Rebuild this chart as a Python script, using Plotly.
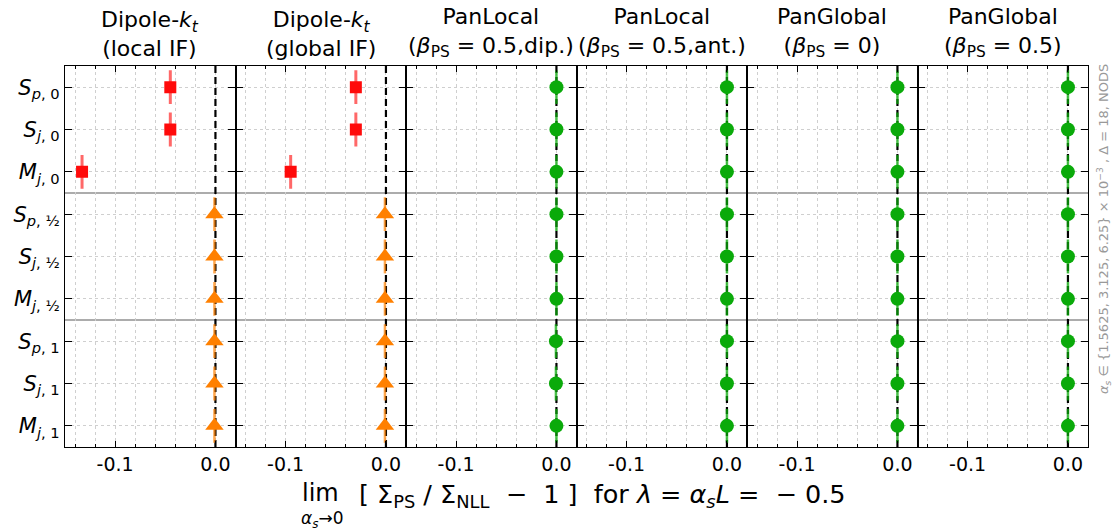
import plotly.graph_objects as go
from plotly.subplots import make_subplots

# ---------------- data ----------------
observables = [
    "<i>S</i><sub><i>p</i>, 0</sub>",
    "<i>S</i><sub><i>j</i>, 0</sub>",
    "<i>M</i><sub><i>j</i>, 0</sub>",
    "<i>S</i><sub><i>p</i>, ½</sub>",
    "<i>S</i><sub><i>j</i>, ½</sub>",
    "<i>M</i><sub><i>j</i>, ½</sub>",
    "<i>S</i><sub><i>p</i>, 1</sub>",
    "<i>S</i><sub><i>j</i>, 1</sub>",
    "<i>M</i><sub><i>j</i>, 1</sub>",
]
panel_titles = [
    "Dipole-<i>k</i><sub><i>t</i></sub><br>(local IF)",
    "Dipole-<i>k</i><sub><i>t</i></sub><br>(global IF)",
    "PanLocal<br>(<i>β</i><sub>PS</sub> = 0.5,dip.)",
    "PanLocal<br>(<i>β</i><sub>PS</sub> = 0.5,ant.)",
    "PanGlobal<br>(<i>β</i><sub>PS</sub> = 0)",
    "PanGlobal<br>(<i>β</i><sub>PS</sub> = 0.5)",
]
# deviation values per panel (9 observables, top to bottom)
dipole_local = [-0.045, -0.045, -0.133, -0.001, -0.001, -0.001, -0.001, -0.001, -0.001]
dipole_global = [-0.030, -0.030, -0.095, -0.001, -0.001, -0.001, -0.001, -0.001, -0.001]
panlocal_dip = [0.0, 0.0, 0.0, 0.0, 0.0, 0.0, -0.0005, -0.0005, 0.0]
panlocal_ant = [0.0, 0.0, 0.0, 0.0, 0.0, 0.0, 0.0, 0.0, 0.0]
panglobal_b0 = [0.0, 0.0, 0.0, 0.0, 0.0, 0.0, 0.0, 0.0, 0.0]
panglobal_b05 = [0.0, 0.0, 0.0, 0.0, 0.0, 0.0, 0.0, 0.0, 0.0]
# vertical bar half-length (in category units) drawn through each point
bar_half = [0.4] * 9
panel_values = [dipole_local, dipole_global, panlocal_dip, panlocal_ant, panglobal_b0, panglobal_b05]
panel_kind = ["dipole", "dipole", "pan", "pan", "pan", "pan"]
n_red = 3
x_ticks = [-0.1, 0.0]
x_ticktext = ["-0.1", "0.0"]
x_range = [-0.15, 0.02]
y_range = [8.5, -0.5]
separators = [2.5, 5.5]

# ---------------- styles ----------------
RED = "#ff0a0a"
RED_BAR = "rgba(255,40,40,0.7)"
ORANGE = "#ff8000"
ORANGE_BAR = "rgba(255,128,0,0.7)"
GREEN = "#0aaa0a"
GREEN_BAR = "rgba(10,170,10,0.75)"
FONT = "DejaVu Sans"
NB = "\u00a0"

W, H = 1118, 530
L, R, T, B = 65, 1088, 66, 447

fig = make_subplots(rows=1, cols=6, shared_yaxes=True, horizontal_spacing=0)

ypos = list(range(len(observables)))

# zero reference lines (between grid and markers) and separators
for i in range(6):
    col = i + 1
    xr = "x" if col == 1 else f"x{col}"
    yr = "y" if col == 1 else f"y{col}"
    fig.add_shape(type="line", xref=xr, yref=yr, x0=0, x1=0, y0=y_range[0], y1=y_range[1],
                  layer="between", line=dict(color="black", width=2.2, dash="7px,4px"))
for s in separators:
    fig.add_shape(type="line", xref="paper", yref="y", x0=0, x1=1, y0=s, y1=s,
                  line=dict(color="#909090", width=1.4), layer="below")

for i, (vals, kind) in enumerate(zip(panel_values, panel_kind)):
    col = i + 1
    if kind == "dipole":
        groups = [
            (vals[:n_red], ypos[:n_red], bar_half[:n_red], "square", RED, RED_BAR, 12, 3),
            (vals[n_red:], ypos[n_red:], bar_half[n_red:], "triangle-up", ORANGE, ORANGE_BAR, 16, 2.5),
        ]
    else:
        groups = [(vals, ypos, bar_half, "circle", GREEN, GREEN_BAR, 14, 2.5)]
    for xs, ys, eb, sym, c, cb, sz, th in groups:
        fig.add_trace(
            go.Scatter(
                x=xs, y=ys, mode="markers",
                marker=dict(symbol=sym, color=c, size=sz, line=dict(width=0)),
                error_y=dict(type="data", array=eb, visible=True, color=cb, thickness=th, width=0),
                showlegend=False, hoverinfo="skip",
            ),
            row=1, col=col,
        )

for i in range(6):
    col = i + 1
    fig.update_xaxes(
        range=x_range, tickvals=x_ticks, ticktext=x_ticktext,
        ticks="inside", ticklen=6, tickwidth=1.3, tickcolor="black",
        showline=True, linecolor="black", linewidth=1.2, mirror="ticks",
        showgrid=True, gridcolor="#cfcfcf", griddash="dot", gridwidth=1,
        minor=dict(dtick=0.02, tick0=0, ticks="inside", ticklen=3, tickcolor="black",
                   showgrid=True, gridcolor="#cfcfcf", griddash="dot", gridwidth=1),
        tickfont=dict(family=FONT, size=19, color="black"),
        zeroline=False, fixedrange=True, automargin=False,
        row=1, col=col,
    )
    fig.update_yaxes(
        range=y_range, tickvals=ypos, ticktext=observables,
        showticklabels=(col == 1),
        ticks="inside", ticklen=7, tickwidth=1.3, tickcolor="black",
        showline=True, linecolor="black", linewidth=1.2, mirror="ticks",
        showgrid=True, gridcolor="#cfcfcf", griddash="dot", gridwidth=1,
        tickfont=dict(family=FONT, size=21, color="black"),
        zeroline=False, fixedrange=True, automargin=False,
        row=1, col=col,
    )

annotations = []
for i, t in enumerate(panel_titles):
    annotations.append(dict(
        text=t, xref=("x domain" if i == 0 else f"x{i+1} domain"), yref="paper",
        x=0.5, y=1, xanchor="center", yanchor="bottom", yshift=3, showarrow=False,
        font=dict(family=FONT, size=22, color="black"),
    ))


def px_x(p):
    return (p - L) / (R - L)


def px_y(p):
    return (B - p) / (B - T)


annotations.append(dict(text="lim", xref="paper", yref="paper", x=px_x(320), y=px_y(493),
                        xanchor="center", yanchor="middle", showarrow=False,
                        font=dict(family=FONT, size=24, color="black")))
annotations.append(dict(text="<i>α<sub>s</sub></i>→0", xref="paper", yref="paper", x=px_x(322), y=px_y(519),
                        xanchor="center", yanchor="middle", showarrow=False,
                        font=dict(family=FONT, size=17, color="black")))
xlabel = ("[ Σ<sub>PS</sub> / Σ<sub>NLL</sub>" + NB * 2 + "−" + NB * 2 + "1 ]" + NB * 2 +
          "for <i>λ</i> = <i>α<sub>s</sub>L</i> =" + NB * 2 + "− 0.5")
annotations.append(dict(text=xlabel,
                        xref="paper", yref="paper", x=px_x(357), y=px_y(495),
                        xanchor="left", yanchor="middle", showarrow=False,
                        font=dict(family=FONT, size=25.5, color="black")))
annotations.append(dict(text="<i>α<sub>s</sub></i> ∈ {1.5625, 3.125, 6.25} × 10<sup>−3</sup> , Δ = 18, NODS",
                        xref="paper", yref="paper", x=px_x(1104), y=px_y(62),
                        xanchor="center", yanchor="top", textangle=-90, showarrow=False,
                        font=dict(family=FONT, size=13, color="#999999")))

fig.update_layout(
    width=W, height=H,
    margin=dict(l=L, r=W - R, t=T, b=H - B, pad=0),
    plot_bgcolor="white", paper_bgcolor="white",
    annotations=annotations,
    showlegend=False,
)

fig.write_html(
    "out.html",
    config={"displayModeBar": False},
    post_script="document.body.style.margin='0';document.body.style.overflow='hidden';",
)
